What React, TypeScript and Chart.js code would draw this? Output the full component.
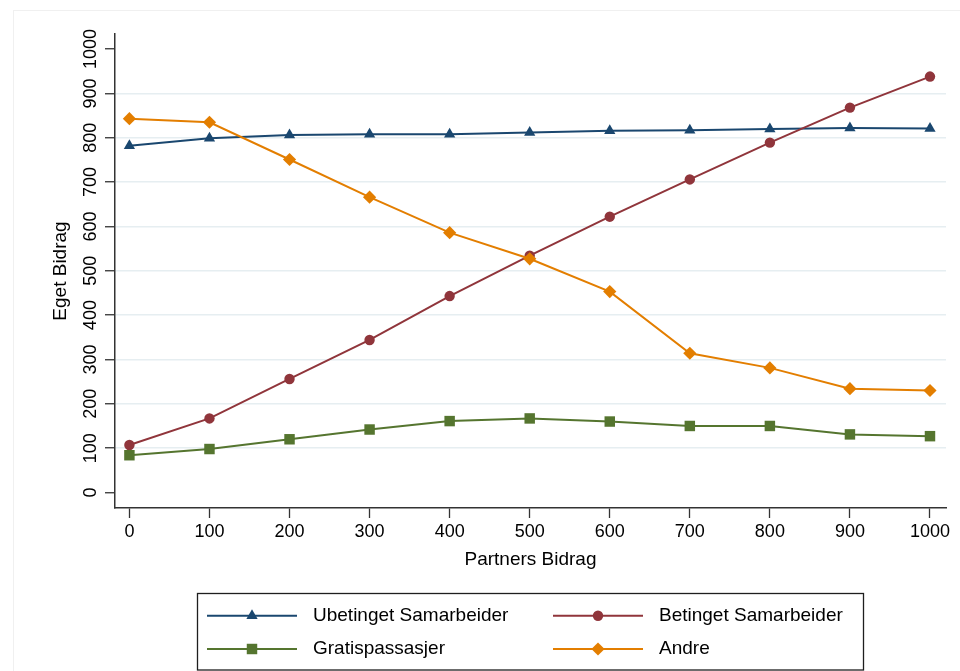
import { useEffect, useRef } from 'react';
import { Chart, registerables } from 'chart.js';
import { drawPoint } from 'chart.js/helpers';

Chart.register(...registerables);

// Partner's contribution (x) and own contribution (y) per player type
const partnerBidrag = [0, 100, 200, 300, 400, 500, 600, 700, 800, 900, 1000];
const ubetingetSamarbeider = [782, 799, 806, 808, 808, 812, 816, 817, 820, 822, 821];
const betingetSamarbeider = [107, 167, 256, 344, 443, 534, 622, 706, 789, 868, 938];
const gratispassasjer = [84, 98, 120, 142, 161, 167, 160, 150, 150, 131, 127];
const andre = [843, 835, 751, 666, 586, 527, 453, 314, 281, 234, 230];

const seriesLabels = ['Ubetinget Samarbeider', 'Betinget Samarbeider', 'Gratispassasjer', 'Andre'];
const xTickValues = [0, 100, 200, 300, 400, 500, 600, 700, 800, 900, 1000];
const yTickValues = [0, 100, 200, 300, 400, 500, 600, 700, 800, 900, 1000];

const FONT = '"Liberation Sans", Arial, sans-serif';
const W = 960;
const H = 671;

const toPoints = (ys: number[]) => partnerBidrag.map((x, i) => ({ x, y: ys[i] }));

// Two-column boxed legend drawn below the plot, line sample with marker in the middle
const boxLegend = {
  id: 'boxLegend',
  afterDraw(chart: any) {
    const { ctx } = chart;
    ctx.save();
    ctx.strokeStyle = '#1e1e1e';
    ctx.lineWidth = 1.3;
    ctx.strokeRect(197.5, 593.5, 666, 76.5);
    const colX = [207, 553];
    const rowY = [615.7, 649];
    chart.data.datasets.forEach((ds: any, i: number) => {
      const x0 = colX[i % 2];
      const y = rowY[Math.floor(i / 2)];
      ctx.strokeStyle = ds.borderColor;
      ctx.lineWidth = 2;
      ctx.beginPath();
      ctx.moveTo(x0, y);
      ctx.lineTo(x0 + 90, y);
      ctx.stroke();
      ctx.fillStyle = ds.pointBackgroundColor;
      ctx.strokeStyle = ds.pointBackgroundColor;
      drawPoint(ctx, { pointStyle: ds.pointStyle, radius: ds.pointRadius, rotation: 0, borderWidth: 0 } as any, x0 + 45, y);
      ctx.fillStyle = '#000';
      ctx.font = `19px ${FONT}`;
      ctx.textBaseline = 'middle';
      ctx.textAlign = 'left';
      ctx.fillText(ds.label, x0 + 106, y);
    });
    ctx.restore();
  },
};

export default function App() {
  const canvasRef = useRef<HTMLCanvasElement | null>(null);

  useEffect(() => {
    if (!canvasRef.current) return;
    const mk = (label: string, ys: number[], color: string, style: string, r: number, order: number) => ({
      label,
      data: toPoints(ys),
      borderColor: color,
      backgroundColor: color,
      pointBackgroundColor: color,
      pointBorderColor: color,
      pointBorderWidth: 0,
      pointStyle: style,
      pointRadius: r,
      pointHoverRadius: r,
      borderWidth: 2,
      tension: 0,
      order,
    });

    const chart = new Chart(canvasRef.current, {
      type: 'line',
      data: {
        datasets: [
          mk(seriesLabels[0], ubetingetSamarbeider, '#1a476f', 'triangle', 6.5, 4),
          mk(seriesLabels[1], betingetSamarbeider, '#90353b', 'circle', 5.2, 3),
          mk(seriesLabels[2], gratispassasjer, '#55752f', 'rect', 7.4, 2),
          mk(seriesLabels[3], andre, '#e37e00', 'rectRot', 6.6, 1),
        ],
      },
      options: {
        responsive: false,
        animation: false,
        devicePixelRatio: 1,
        layout: { padding: { left: 0, top: 34, right: 14, bottom: 93 } },
        plugins: {
          legend: { display: false },
          tooltip: { enabled: false },
        },
        scales: {
          x: {
            type: 'linear',
            min: -18,
            max: 1020,
            afterBuildTicks: (s: any) => {
              s.ticks = xTickValues.map((v) => ({ value: v }));
            },
            afterFit: (s: any) => {
              s.height = 70;
            },
            ticks: {
              callback: (v: any) => String(v),
              padding: 3,
              autoSkip: false,
              maxRotation: 0,
              color: '#000',
              font: { family: FONT, size: 18 },
            },
            grid: {
              drawOnChartArea: false,
              tickLength: 10,
              tickColor: '#333',
              tickWidth: 1.3,
            },
            border: { color: '#333', width: 1.5 },
            title: {
              display: true,
              text: 'Partners Bidrag',
              color: '#000',
              font: { family: FONT, size: 19 },
              padding: { top: 0, bottom: 6.6 },
            },
          },
          y: {
            type: 'linear',
            min: -35,
            max: 1034,
            afterBuildTicks: (s: any) => {
              s.ticks = yTickValues.map((v) => ({ value: v }));
            },
            afterFit: (s: any) => {
              s.width = 115;
            },
            ticks: {
              callback: (v: any) => String(v),
              minRotation: 90,
              maxRotation: 90,
              crossAlign: 'center',
              padding: -6,
              autoSkip: false,
              color: '#000',
              font: { family: FONT, size: 18 },
            },
            grid: {
              color: (c: any) =>
                c.tick && (c.tick.value === 0 || c.tick.value === 1000) ? 'rgba(0,0,0,0)' : '#e6eef1',
              lineWidth: 1.5,
              tickLength: 10,
              tickColor: '#333',
              tickWidth: 1.3,
            },
            border: { color: '#333', width: 1.5 },
            title: {
              display: true,
              text: 'Eget Bidrag',
              color: '#000',
              font: { family: FONT, size: 19 },
              padding: { top: 49, bottom: 0 },
            },
          },
        },
      } as any,
      plugins: [boxLegend],
    });
    return () => chart.destroy();
  }, []);

  return (
    <div
      style={{
        position: 'absolute',
        left: 0,
        top: 0,
        width: W,
        height: H,
        background: '#fff',
        overflow: 'hidden',
      }}
    >
      <div
        style={{
          position: 'absolute',
          left: 13,
          top: 10,
          width: W,
          height: H,
          borderLeft: '1px solid #f0f0f0',
          borderTop: '1px solid #f0f0f0',
        }}
      />
      <canvas ref={canvasRef} width={W} height={H} style={{ position: 'absolute', left: 0, top: 0 }} />
    </div>
  );
}
